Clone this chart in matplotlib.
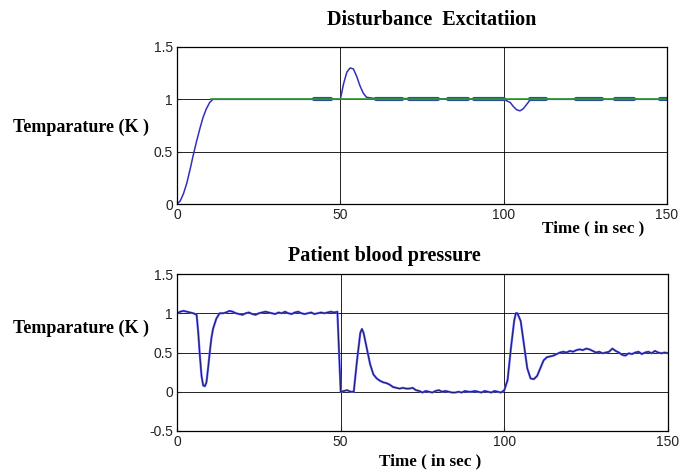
import matplotlib.pyplot as plt

# top panel: controlled temperature vs reference
t_top = [0, 1, 2, 3, 4, 5, 6, 7, 8, 9, 10, 11, 50, 51, 52, 53, 54, 55, 56, 57, 58, 60,
         100, 102, 103, 104, 105, 106, 107, 108, 109, 150]
y_top = [0, 0.03, 0.1, 0.2, 0.33, 0.47, 0.6, 0.72, 0.83, 0.91, 0.97, 1.0, 1.0, 1.15, 1.26, 1.3,
         1.29, 1.22, 1.13, 1.06, 1.02, 1.01, 1.0, 0.97, 0.93, 0.9, 0.89, 0.91, 0.95, 0.99, 1.0, 1.0]
t_ref = [10.5, 150]
y_ref = [1.0, 1.0]
# thick blue bits sitting on the reference line
seg_start = [42, 61, 71, 83, 91, 108, 122, 134, 148]
seg_end = [47, 69, 80, 89, 100, 113, 130, 140, 150]

# bottom panel: patient blood pressure
t_bot = [0, 1, 2, 3, 4, 5, 6, 6.5, 7, 7.5, 8, 8.5, 9, 9.5, 10, 10.5, 11, 12, 13, 14, 15, 16, 17,
         18, 19, 20, 21, 22, 23, 24, 25, 26, 27, 28, 29, 30, 31, 32, 33, 34, 35, 36, 37, 38, 39,
         40, 41, 42, 43, 44, 45, 46, 47, 48, 49, 49.5, 50, 51, 52, 53, 54, 55, 56, 56.5, 57, 58,
         59, 60, 61, 62, 63, 64, 65, 66, 67, 68, 69, 70, 71, 72, 73, 74, 75, 76, 77, 78, 79, 80,
         81, 82, 83, 84, 85, 86, 87, 88, 89, 90, 91, 92, 93, 94, 95, 96, 97, 98, 99, 100, 101,
         102, 103, 103.5, 104, 105, 106, 107, 108, 109, 110, 111, 112, 113, 114, 115, 116, 117,
         118, 119, 120, 121, 122, 123, 124, 125, 126, 127, 128, 129, 130, 131, 132, 133, 134,
         135, 136, 137, 138, 139, 140, 141, 142, 143, 144, 145, 146, 147, 148, 149, 150]
y_bot = [1.0, 1.02, 1.03, 1.02, 1.01, 1.0, 0.98, 0.75, 0.45, 0.2, 0.08, 0.07, 0.12, 0.3, 0.5,
         0.68, 0.8, 0.93, 1.0, 1.0, 1.01, 1.03, 1.02, 1.0, 0.99, 0.98, 1.0, 1.01, 0.99, 0.98, 1.0,
         1.01, 1.02, 1.01, 1.0, 0.99, 1.01, 1.0, 1.02, 1.0, 0.99, 1.01, 1.02, 1.0, 0.99, 1.0, 1.01,
         0.99, 1.0, 1.01, 1.0, 1.01, 1.02, 1.01, 1.02, 0.5, 0.0, 0.01, 0.02, 0.0, 0.0, 0.4, 0.75,
         0.8, 0.75, 0.55, 0.35, 0.22, 0.17, 0.14, 0.12, 0.11, 0.09, 0.06, 0.05, 0.04, 0.05, 0.04,
         0.04, 0.05, 0.02, 0.01, -0.01, 0.01, 0.0, -0.01, 0.01, 0.02, 0.0, 0.01, 0.0, -0.01, -0.01,
         0.0, -0.01, 0.01, 0.0, 0.0, 0.01, 0.0, -0.01, 0.01, 0.0, -0.01, 0.01, 0.0, -0.01, 0.02,
         0.15, 0.55, 0.9, 1.0, 1.0, 0.9, 0.6, 0.3, 0.17, 0.16, 0.2, 0.3, 0.4, 0.44, 0.45, 0.46,
         0.48, 0.5, 0.51, 0.5, 0.52, 0.51, 0.53, 0.54, 0.53, 0.55, 0.54, 0.52, 0.5, 0.51, 0.49,
         0.5, 0.51, 0.55, 0.52, 0.5, 0.47, 0.46, 0.49, 0.48, 0.5, 0.51, 0.48, 0.5, 0.51, 0.49,
         0.52, 0.5, 0.49, 0.5, 0.49]

xticks = [0, 50, 100, 150]
yticks_top = [0, 0.5, 1, 1.5]
yticks_bot = [-0.5, 0, 0.5, 1, 1.5]
tick_lbl_top = ['0', '0.5', '1', '1.5']
tick_lbl_bot = ['-0.5', '0', '0.5', '1', '1.5']

W, H = 685, 474
fig = plt.figure(figsize=(W / 100, H / 100), dpi=100)
ax1 = fig.add_axes([177 / W, 1 - 204 / H, 490 / W, 157 / H])
ax2 = fig.add_axes([177 / W, 1 - 431 / H, 491 / W, 157 / H])

def style(ax, yt, ylbl, ylim):
    ax.set_xlim(0, 150)
    ax.set_ylim(*ylim)
    ax.set_xticks(xticks)
    ax.set_xticklabels([str(v) for v in xticks])
    ax.set_yticks(yt)
    ax.set_yticklabels(ylbl)
    ax.tick_params(direction='in', length=3, labelsize=10, colors='#222222', pad=3)
    for lab in ax.get_xticklabels() + ax.get_yticklabels():
        lab.set_fontfamily('Liberation Sans')
    ax.grid(True, color='black', linewidth=0.6)
    for s in ax.spines.values():
        s.set_linewidth(0.9)

ax1.plot(t_top, y_top, color='#3030c0', linewidth=1.1)
for a, b in zip(seg_start, seg_end):
    ax1.plot([a, b], [1.005, 1.005], color='#2a4ea0', linewidth=3, solid_capstyle='round')
ax1.plot(t_ref, y_ref, color='#2e9a2e', linewidth=1.2)
style(ax1, yticks_top, tick_lbl_top, (0, 1.5))

ax2.plot(t_bot, y_bot, color='#6060ff', linewidth=1.6)
ax2.plot(t_bot, y_bot, color='#1a1a60', linewidth=0.7)
style(ax2, yticks_bot, tick_lbl_bot, (-0.5, 1.5))

serif = 'Liberation Serif'
fig.text(432 / W, 1 - 20 / H, 'Disturbance  Excitatiion', ha='center', va='center',
         fontsize=14.5, fontweight='bold', family=serif)
fig.text(384 / W, 1 - 256 / H, 'Patient blood pressure', ha='center', va='center',
         fontsize=14.5, fontweight='bold', family=serif)
fig.text(593 / W, 1 - 228 / H, 'Time ( in sec )', ha='center', va='center',
         fontsize=12.3, fontweight='bold', family=serif)
fig.text(430 / W, 1 - 461 / H, 'Time ( in sec )', ha='center', va='center',
         fontsize=12.3, fontweight='bold', family=serif)
fig.text(13 / W, 1 - 127 / H, 'Temparature (K )', ha='left', va='center',
         fontsize=13, fontweight='bold', family=serif)
fig.text(13 / W, 1 - 328 / H, 'Temparature (K )', ha='left', va='center',
         fontsize=13, fontweight='bold', family=serif)

fig.savefig('out.png', dpi=100)
